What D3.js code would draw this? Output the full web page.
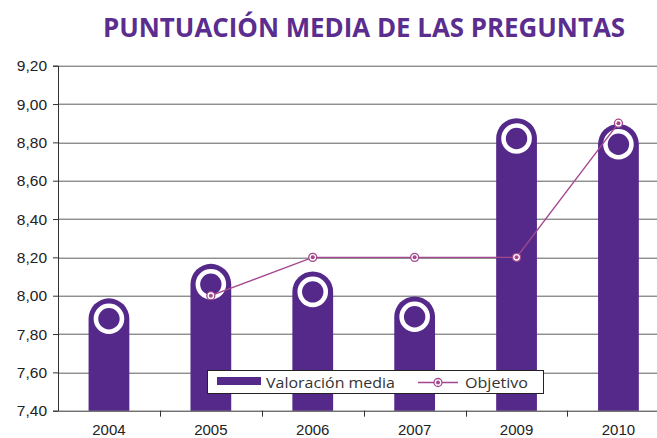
<!DOCTYPE html>
<html>
<head>
<meta charset="utf-8">
<script src="https://cdn.jsdelivr.net/npm/d3@7"></script>
<style>
  body { margin: 0; background: #fff; }
  svg { display: block; overflow: hidden; }
</style>
</head>
<body>
<div id="wrapper"></div>
<script>
const years = ["2004", "2005", "2006", "2007", "2009", "2010"];
const valoracion = [7.88, 8.06, 8.02, 7.89, 8.82, 8.79];
const objetivo = [null, 8.0, 8.2, 8.2, 8.2, 8.9];
const yTicks = [7.4, 7.6, 7.8, 8.0, 8.2, 8.4, 8.6, 8.8, 9.0, 9.2];

function drawChart() {
  const width = 657;
  const height = 438;
  let dimensions = {
    width,
    height,
    margin: { top: 65.7, right: 0, bottom: 27.3, left: 58 },
  };
  dimensions.boundedHeight =
    dimensions.height - dimensions.margin.top - dimensions.margin.bottom;
  // the plot runs past the right edge of the picture (cropped)
  dimensions.boundedWidth = 611.4;

  const purple = "#55298a";
  const magenta = "#a3478f";

  const wrapper = d3
    .select("#wrapper")
    .append("svg")
    .attr("width", dimensions.width)
    .attr("height", dimensions.height);

  wrapper
    .append("text")
    .attr("x", 364)
    .attr("y", 37)
    .attr("text-anchor", "middle")
    .attr("textLength", 522)
    .attr("lengthAdjust", "spacingAndGlyphs")
    .style("font-family", "'Open Sans', sans-serif")
    .style("font-weight", "bold")
    .style("font-size", "27px")
    .attr("fill", "#5a2d8e")
    .text("PUNTUACIÓN MEDIA DE LAS PREGUNTAS");

  const bounds = wrapper
    .append("g")
    .attr(
      "transform",
      `translate(${dimensions.margin.left}, ${dimensions.margin.top})`
    );

  const yScale = d3
    .scaleLinear()
    .domain([7.4, 9.2])
    .range([dimensions.boundedHeight, 0]);

  const cellScale = d3
    .scaleBand()
    .domain(years)
    .range([0, dimensions.boundedWidth]);

  const xScale = d3
    .scaleBand()
    .domain(years)
    .range([0, dimensions.boundedWidth])
    .paddingInner(0.6)
    .paddingOuter(0.3);

  const fmt = (d) => d3.format(".2f")(d).replace(".", ",");

  // gridlines
  bounds
    .append("g")
    .selectAll("line")
    .data(yTicks.filter((d) => d > 7.4))
    .join("line")
    .attr("x1", 0)
    .attr("x2", dimensions.boundedWidth)
    .attr("y1", (d) => Math.round(yScale(d)) + 0.5)
    .attr("y2", (d) => Math.round(yScale(d)) + 0.5)
    .attr("stroke", "#5e5e5e")
    .attr("stroke-width", 1);

  // bars with rounded tops
  const bw = xScale.bandwidth();
  const r = bw / 2;
  const barGroups = bounds
    .append("g")
    .selectAll("g")
    .data(years.map((y, i) => ({ year: y, value: valoracion[i] })))
    .join("g");

  barGroups
    .append("path")
    .attr("d", (d) => {
      const x0 = xScale(d.year);
      const x1 = x0 + bw;
      const yv = yScale(d.value);
      const yb = yScale(7.4);
      return `M${x0},${yb}L${x0},${yv}A${r},${r} 0 0 1 ${x1},${yv}L${x1},${yb}Z`;
    })
    .attr("fill", purple);

  barGroups
    .append("circle")
    .attr("cx", (d) => xScale(d.year) + r)
    .attr("cy", (d) => yScale(d.value))
    .attr("r", 13)
    .attr("fill", "none")
    .attr("stroke", "#fff")
    .attr("stroke-width", 4.6);

  // y axis
  const yAxis = bounds
    .append("g")
    .call(
      d3
        .axisLeft(yScale)
        .tickValues(yTicks)
        .tickSize(5)
        .tickPadding(6)
        .tickFormat(fmt)
    );
  yAxis.select(".domain").attr("stroke", "#333");
  yAxis.selectAll(".tick line").attr("stroke", "#333");
  yAxis
    .selectAll("text")
    .style("font-family", "'Liberation Sans', Arial, sans-serif")
    .style("font-size", "15.5px")
    .attr("fill", "#222");

  // x axis: labels at band centres, ticks at band boundaries
  const xAxis = bounds
    .append("g")
    .attr("transform", `translate(0, ${dimensions.boundedHeight})`)
    .call(d3.axisBottom(cellScale).tickSize(0).tickPadding(13.5));
  xAxis.select(".domain").attr("stroke", "#333");
  xAxis
    .selectAll("text")
    .style("font-family", "'Liberation Sans', Arial, sans-serif")
    .style("font-size", "15px")
    .attr("fill", "#222");
  xAxis
    .append("g")
    .selectAll("line")
    .data(years.slice(1))
    .join("line")
    .attr("x1", (d) => Math.round(cellScale(d)) + 0.5)
    .attr("x2", (d) => Math.round(cellScale(d)) + 0.5)
    .attr("y1", 0)
    .attr("y2", 6)
    .attr("stroke", "#333");

  // objetivo line
  const objData = years
    .map((y, i) => ({ year: y, value: objetivo[i] }))
    .filter((d) => d.value != null);
  const lineGen = d3
    .line()
    .x((d) => xScale(d.year) + r)
    .y((d) => yScale(d.value));

  bounds
    .append("path")
    .datum(objData)
    .attr("d", lineGen)
    .attr("fill", "none")
    .attr("stroke", magenta)
    .attr("stroke-width", 1.4);

  const markers = bounds
    .append("g")
    .selectAll("g")
    .data(objData)
    .join("g")
    .attr(
      "transform",
      (d) => `translate(${xScale(d.year) + r}, ${yScale(d.value)})`
    );
  markers
    .append("circle")
    .attr("r", 4)
    .attr("fill", "#fff")
    .attr("stroke", magenta)
    .attr("stroke-width", 1.3);
  markers.append("circle").attr("r", 2).attr("fill", magenta);

  // legend
  const legend = wrapper.append("g").attr("transform", "translate(207, 370)");
  legend
    .append("rect")
    .attr("x", 0.5)
    .attr("y", 0.5)
    .attr("width", 336)
    .attr("height", 23)
    .attr("fill", "#fff")
    .attr("stroke", "#222");
  legend
    .append("rect")
    .attr("x", 10)
    .attr("y", 7)
    .attr("width", 44)
    .attr("height", 8)
    .attr("fill", purple);
  legend
    .append("text")
    .attr("x", 59)
    .attr("y", 17.5)
    .style("font-family", "'Open Sans', sans-serif")
    .style("font-size", "15px")
    .attr("fill", "#333")
    .attr("textLength", 129)
    .attr("lengthAdjust", "spacingAndGlyphs")
    .text("Valoración media");
  legend
    .append("line")
    .attr("x1", 211)
    .attr("x2", 251)
    .attr("y1", 12.5)
    .attr("y2", 12.5)
    .attr("stroke", magenta)
    .attr("stroke-width", 1.4);
  const lm = legend.append("g").attr("transform", "translate(231, 12.5)");
  lm.append("circle")
    .attr("r", 4)
    .attr("fill", "#fff")
    .attr("stroke", magenta)
    .attr("stroke-width", 1.3);
  lm.append("circle").attr("r", 2).attr("fill", magenta);
  legend
    .append("text")
    .attr("x", 258)
    .attr("y", 17.5)
    .style("font-family", "'Open Sans', sans-serif")
    .style("font-size", "15px")
    .attr("fill", "#333")
    .attr("textLength", 63)
    .attr("lengthAdjust", "spacingAndGlyphs")
    .text("Objetivo");
}

drawChart();
</script>
</body>
</html>
